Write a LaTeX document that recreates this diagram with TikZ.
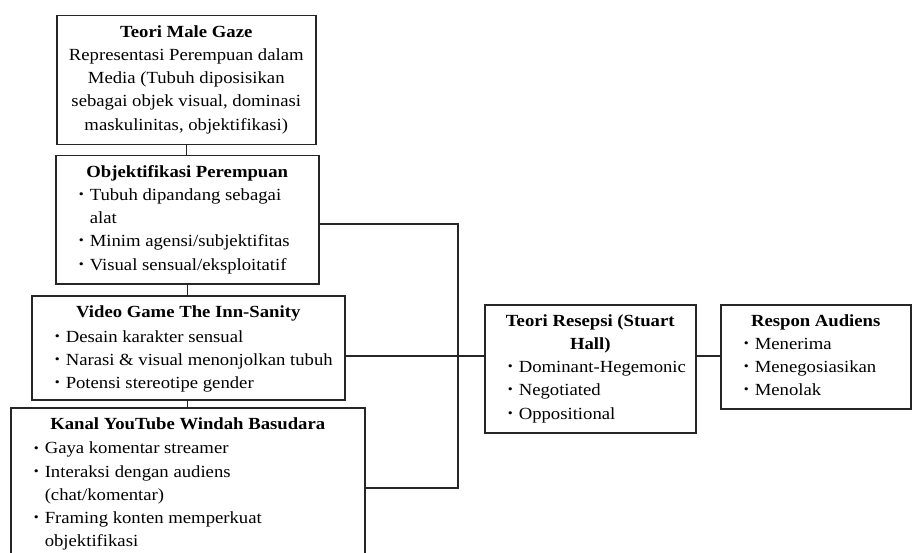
\documentclass[tikz,border=0pt]{standalone}
\usepackage{fontspec}
\setmainfont[FakeStretch=1.1]{Liberation Serif}
\usepackage{graphicx}
\newcommand{\bul}{\raisebox{0.25ex}{\scalebox{0.75}{\textbullet}}}
\newcommand{\bit}[1]{\par\noindent\hspace*{34pt}\llap{\bul\hspace{6pt}}#1}
\newcommand{\cnt}[1]{\par\noindent\hspace*{34pt}#1}
\newcommand{\ttl}[1]{\par{\centering\bfseries\rule{0pt}{15pt}#1\par}}
\newcommand{\boxtext}[3]{\parbox[c][#1pt][t]{#2pt}{\fontsize{17}{23.2}\selectfont\raggedright\parindent=0pt\vspace*{6.5pt}#3}}
\tikzset{
  diabox/.style={draw=black!85, line width=1.5pt, inner sep=0pt, anchor=north west, fill=white},
  conn/.style={draw=black!85, line width=1.5pt}
}
\begin{document}
\begin{tikzpicture}[x=1pt,y=-1pt]
\useasboundingbox (0,0) rectangle (912,553);
\clip (0,0) rectangle (912,553);
\fill[white] (0,0) rectangle (912,553);

\coordinate (top) at (458,224);
\coordinate (bot) at (458,488);
\coordinate (mid) at (458,356);

\node[diabox] (gaze) at (56,15) {\boxtext{129}{259}{\centering
  \ttl{Teori Male Gaze}
  Representasi Perempuan dalam\par
  Media (Tubuh diposisikan\par
  sebagai objek visual, dominasi\par
  maskulinitas, objektifikasi)\par}};

\node[diabox] (obj) at (55,155) {\boxtext{128}{263}{%
  \ttl{Objektifikasi Perempuan}
  \bit{Tubuh dipandang sebagai}
  \cnt{alat}
  \bit{Minim agensi/subjektifitas}
  \bit{Visual sensual/eksploitatif}\par}};

\node[diabox] (game) at (31,295) {\boxtext{104}{313}{%
  \ttl{Video Game The Inn-Sanity}\vspace{2pt}
  \bit{Desain karakter sensual}
  \bit{Narasi \& visual menonjolkan tubuh}
  \bit{Potensi stereotipe gender}\par}};

\node[diabox] (kanal) at (10,407) {\boxtext{160}{354}{%
  \ttl{Kanal YouTube Windah Basudara}\vspace{1.5pt}
  \bit{Gaya komentar streamer}
  \bit{Interaksi dengan audiens}
  \cnt{(chat/komentar)}
  \bit{Framing konten memperkuat}
  \cnt{objektifikasi}\par}};

\node[diabox] (resepsi) at (484,304) {\boxtext{128}{211}{%
  \ttl{Teori Resepsi (Stuart\\Hall)}
  \bit{Dominant-Hegemonic}
  \bit{Negotiated}
  \bit{Oppositional}\par}};

\node[diabox] (respon) at (720,304) {\boxtext{104}{190}{%
  \ttl{Respon Audiens}
  \bit{Menerima}
  \bit{Menegosiasikan}
  \bit{Menolak}\par}};

\draw[conn] (gaze.south) -- (gaze.south |- obj.north);
\draw[conn] (obj.south) -- (obj.south |- game.north);
\draw[conn] (game.south -| obj.south) -- (obj.south |- kanal.north);
\draw[conn] (obj.east |- top) -- (top) -- (bot) -- (kanal.east |- bot);
\draw[conn] (game.east |- mid) -- (resepsi.west |- mid);
\draw[conn] (resepsi.east |- mid) -- (respon.west |- mid);
\end{tikzpicture}
\end{document}
